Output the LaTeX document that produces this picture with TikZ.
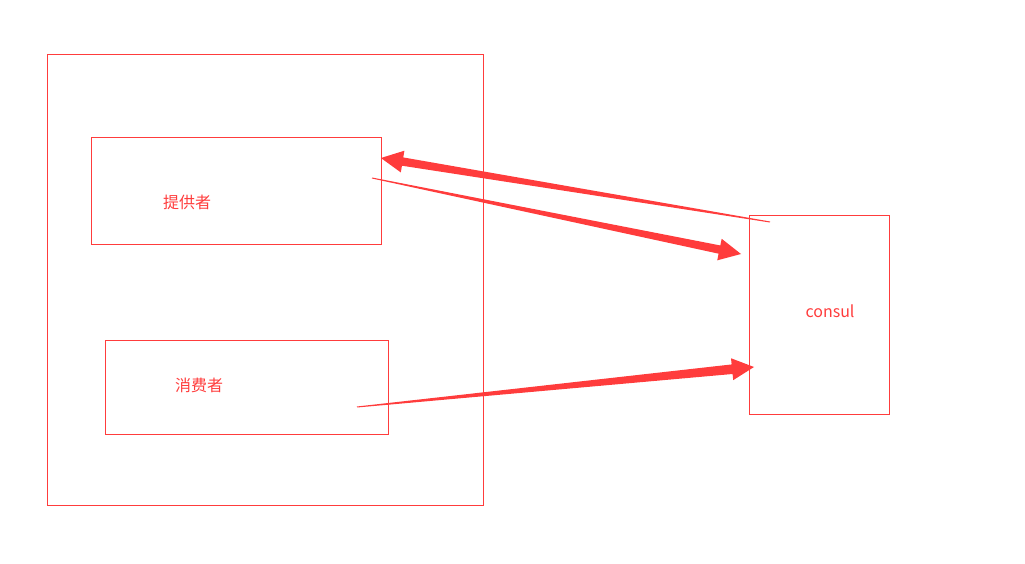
\documentclass[tikz,border=0pt]{standalone}
\usepackage{fontspec}
\setmainfont{Noto Sans CJK SC}
\usetikzlibrary{calc}
\definecolor{consulred}{HTML}{FF3C3C}
\tikzset{
  box/.style={draw=consulred, line width=0.9pt, inner sep=0pt, anchor=north west},
  lbl/.style={text=consulred, font=\fontsize{16}{18}\selectfont, inner sep=0pt},
}
% tapered arrow: tail, tip, shaft half-width at the head
\newcommand\fatarrow[3]{%
  \coordinate (hb) at ($(#2)!22pt!(#1)$);
  \fill[consulred] ($(#1)!0.5pt!90:(#2)$) -- ($(hb)!#3!90:(#2)$) -- ($(hb)!11pt!90:(#2)$)
    -- (#2) -- ($(hb)!11pt!-90:(#2)$) -- ($(hb)!#3!-90:(#2)$) -- ($(#1)!0.5pt!-90:(#2)$) -- cycle;
}

\begin{document}
\begin{tikzpicture}[x=1pt,y=-1pt]
\useasboundingbox (0,0) rectangle (1025,564);
\node[box, minimum width=436pt, minimum height=451pt] (host) at (47,54) {};
\node[box, minimum width=290pt, minimum height=107pt] (prov) at (91,137) {};
\node[box, minimum width=283pt, minimum height=94pt] (cons) at (105,340) {};
\node[box, minimum width=140pt, minimum height=199pt] (consul) at (749,215) {};

\node[lbl] (provtxt) at (187,202) {提供者};
\node[lbl] (constxt) at (199,385) {消费者};
\node[lbl] (consultxt) at (830,311) {consul};

\coordinate (t1) at (770,222);
\coordinate (h1) at ($(prov.north east)+(-1,21)$);
\coordinate (t2) at (372,178);
\coordinate (h2) at ($(consul.north west)+(-8,39)$);
\coordinate (t3) at (357,407);
\coordinate (h3) at ($(consul.north west)+(5,152)$);

\fatarrow{t1}{h1}{4.2pt}
\fatarrow{t2}{h2}{4.2pt}
\fatarrow{t3}{h3}{4.8pt}
\end{tikzpicture}
\end{document}
